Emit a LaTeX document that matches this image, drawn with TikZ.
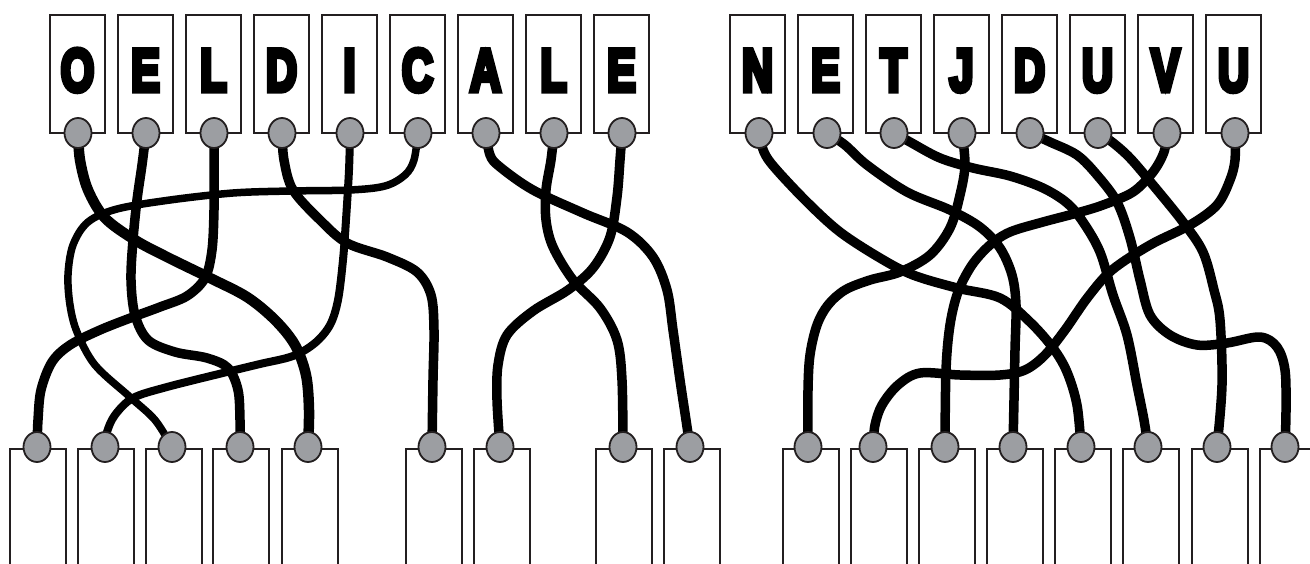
\documentclass[tikz,border=0pt]{standalone}
\usepackage{fontspec}
\usepackage{graphicx}
\usetikzlibrary{shapes.geometric}
\newfontfamily\letterfont[FakeBold=9]{Liberation Sans Bold}
\definecolor{edge}{HTML}{231F20}
\definecolor{pin}{HTML}{9C9EA2}
\pgfdeclarelayer{wires}
\pgfsetlayers{wires,main}
\tikzset{
  topbox/.style={draw=edge, line width=2pt, fill=white, minimum width=55pt, minimum height=118pt, inner sep=0pt, anchor=north},
  botbox/.style={draw=edge, line width=2pt, fill=white, minimum width=56pt, minimum height=140pt, inner sep=0pt, anchor=north},
  pinnode/.style={ellipse, draw=edge, line width=1.8pt, fill=pin, minimum width=27pt, minimum height=30pt, inner sep=0pt},
  letter/.style={anchor=base, inner sep=0pt, font=\letterfont\fontsize{60}{60}\selectfont},
  wire/.style={line width=9.5pt, line cap=round, line join=round, black},
  thinwire/.style={wire, line width=7.5pt},
}
\begin{document}
\begin{tikzpicture}[x=1pt,y=-1pt]
\useasboundingbox (0,0) rectangle (1310,563);
\clip (0,0) rectangle (1310,563);
% top boxes with letters and pins
\foreach \bx/\px/\l [count=\i] in {77.5/78/O,145.5/146/E,213.5/214/L,281.5/282/D,349.5/350/I,417.5/418/C,485.5/486/A,553.5/554/L,621.5/622/E,757.5/759/N,825.5/827/E,893.5/894/T,961.5/962/J,1029.5/1030/D,1097.5/1098/U,1165.5/1167/V,1233.5/1235/U}{
  \node[topbox] (tb\i) at (\bx,14) {};
  \node[letter] (l\i) at (\bx,91) {\scalebox{0.72}[1]{\l}};
  \node[pinnode] (t\i) at (\px,133) {};
}
% bottom boxes with pins
\foreach \bx/\px [count=\i] in {37.5/37,106/105,174/172,241/240,310/308,434/432,501.5/500,624/623,691.5/690,811/808,879/873,947/945,1015/1013,1083/1081,1150.5/1148,1219.5/1217,1288/1285}{
  \node[botbox] (bb\i) at (\bx,448) {};
  \node[pinnode] (b\i) at (\px,447) {};
}
\begin{pgfonlayer}{wires}
\fill[white] (0,0) rectangle (1310,563);
% left group
\draw[wire,line width=10.5pt] plot[smooth,tension=0.55] coordinates {(t1.center) (80,160) (88,190) (105,218) (135,240) (167,257) (210,278) (247,297) (275,320) (295,345) (306,375) (309,410) (b5.center)};
\draw[wire] plot[smooth,tension=0.55] coordinates {(t2.center) (142,165) (137,200) (133,240) (131,280) (135,315) (148,340) (175,352) (207,358) (228,368) (238,390) (240,420) (b4.center)};
\draw[wire] plot[smooth,tension=0.55] coordinates {(t3.center) (214,170) (214,210) (212,250) (205,278) (187,296) (160,307) (133,317) (100,330) (70,345) (52,362) (41,390) (38,420) (b1.center)};
\draw[wire] plot[smooth,tension=0.55] coordinates {(t4.center) (284,160) (293,190) (320,220) (347,243) (387,257) (417,272) (431,295) (434,330) (433,380) (b6.center)};
\draw[thinwire,line width=8pt] plot[smooth,tension=0.55] coordinates {(t5.center) (349,170) (346,220) (343,260) (338,300) (330,325) (315,343) (293,356) (260,364) (227,372) (167,387) (133,398) (115,415) (107,432) (b2.center)};
\draw[thinwire] plot[smooth,tension=0.55] coordinates {(t6.center) (414,160) (405,175) (385,186) (350,190) (290,191) (233,193) (170,200) (117,209) (88,222) (73,245) (68,275) (70,305) (77,332) (95,365) (130,397) (155,420) (b3.center)};
\draw[wire] plot[smooth,tension=0.55] coordinates {(t7.center) (490,155) (500,167) (533,190) (583,213) (627,232) (653,257) (667,290) (673,330) (680,380) (686,420) (b9.center)};
\draw[wire] plot[smooth,tension=0.55] coordinates {(t8.center) (551,160) (546,190) (546,220) (553,247) (573,280) (600,308) (617,340) (622,380) (b8.center)};
\draw[wire] plot[smooth,tension=0.55] coordinates {(t9.center) (620,160) (617,197) (610,237) (593,268) (568,290) (533,311) (507,335) (498,365) (497,400) (b7.center)};
% right group
\draw[wire] plot[smooth,tension=0.55] coordinates {(t10.center) (764,152) (775,168) (807,202) (840,232) (880,258) (913,275) (957,288) (1000,298) (1030,322) (1053,348) (1067,372) (1077,405) (b14.center)};
\draw[wire] plot[smooth,tension=0.55] coordinates {(t11.center) (845,145) (867,165) (907,192) (950,210) (980,227) (1000,248) (1012,275) (1016,305) (1015,350) (1014,400) (b13.center)};
\draw[wire] plot[smooth,tension=0.55] coordinates {(t12.center) (910,142) (940,158) (973,168) (1010,176) (1043,188) (1067,203) (1083,222) (1100,252) (1113,295) (1127,335) (1137,385) (1144,420) (b15.center)};
\draw[wire] plot[smooth,tension=0.55] coordinates {(t13.center) (965,165) (960,195) (950,228) (930,255) (900,272) (870,280) (845,290) (828,305) (817,325) (810,355) (808,390) (b10.center)};
\draw[wire] plot[smooth,tension=0.55] coordinates {(t14.center) (1050,142) (1077,155) (1097,175) (1117,202) (1130,238) (1140,280) (1150,315) (1170,335) (1197,345) (1227,343) (1260,337) (1277,347) (1285,370) (1286,410) (b17.center)};
\draw[wire] plot[smooth,tension=0.55] coordinates {(t15.center) (1112,142) (1130,158) (1153,185) (1183,222) (1203,252) (1214,290) (1220,320) (1222,385) (b16.center)};
\draw[wire] plot[smooth,tension=0.55] coordinates {(t16.center) (1164,152) (1153,172) (1133,192) (1103,205) (1077,213) (1043,222) (1010,232) (990,245) (972,265) (958,292) (950,325) (946,370) (b12.center)};
\draw[wire] plot[smooth,tension=0.55] coordinates {(t17.center) (1235,160) (1230,180) (1217,205) (1190,225) (1150,245) (1112,270) (1088,297) (1065,330) (1045,355) (1025,370) (1000,375) (960,375) (920,373) (898,385) (882,405) (875,425) (b11.center)};
\end{pgfonlayer}
\end{tikzpicture}
\end{document}
